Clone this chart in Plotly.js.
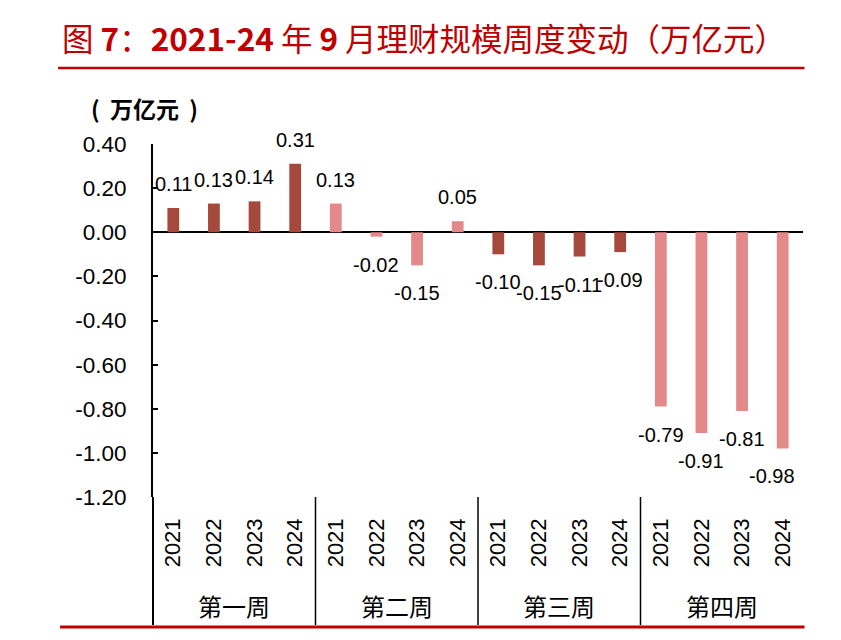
<!DOCTYPE html>
<html>
<head>
<meta charset="utf-8">
<script src="https://cdn.plot.ly/plotly-3.0.1.min.js"></script>
<style>
  html, body { margin: 0; padding: 0; background: #fff; }
  #chart { width: 841px; height: 640px; }
</style>
</head>
<body>
<div id="chart"></div>
<script>
// ---- data ----
var weeks = ['第一周', '第二周', '第三周', '第四周'];
var years = ['2021', '2022', '2023', '2024'];
var week1 = [0.11, 0.13, 0.14, 0.31];
var week2 = [0.13, -0.02, -0.15, 0.05];
var week3 = [-0.10, -0.15, -0.11, -0.09];
var week4 = [-0.79, -0.91, -0.81, -0.98];
var yTicks = [0.40, 0.20, 0.00, -0.20, -0.40, -0.60, -0.80, -1.00, -1.20];

// ---- styles ----
var darkColor = '#A4493C';
var lightColor = '#E4898A';
var weekColors = [darkColor, lightColor, darkColor, lightColor];
var series = [week1, week2, week3, week4];
var latin = 'Liberation Sans, Arial, sans-serif';
var cjk = 'Noto Sans CJK SC, sans-serif';

var traces = [];
var annotations = [];
var allX = [], allText = [];
var nBars = series.length * years.length;
series.forEach(function (vals, w) {
  var xs = vals.map(function (v, j) { return w * years.length + j; });
  traces.push({
    type: 'bar',
    x: xs,
    y: vals,
    width: 0.29,
    marker: { color: weekColors[w], line: { width: 0 } },
    hoverinfo: 'skip',
    showlegend: false
  });
  vals.forEach(function (v, j) {
    allX.push(xs[j]);
    allText.push(years[j]);
    annotations.push({
      x: xs[j], y: v, xref: 'x', yref: 'y',
      text: v.toFixed(2),
      showarrow: false,
      xanchor: 'center', yanchor: 'middle',
      yshift: v >= 0 ? 24 : -28,
      // keep the last label inside the chart edge
      xshift: xs[j] === nBars - 1 ? -11 : 0,
      font: { family: latin, size: 20, color: '#000' }
    });
  });
});

// plot geometry helpers (paper units)
var plotLeft = 153, plotRight = 803.5, plotTop = 144, plotBottom = 497;
var pw = plotRight - plotLeft, ph = plotBottom - plotTop;
function px(x) { return (x - plotLeft) / pw; }
function py(y) { return (plotBottom - y) / ph; }

// week group labels
weeks.forEach(function (wk, w) {
  annotations.push({
    x: w * years.length + (years.length - 1) / 2, y: py(605),
    xref: 'x', yref: 'paper', text: wk, showarrow: false,
    xanchor: 'center', yanchor: 'middle',
    font: { family: cjk, size: 24, color: '#000' }
  });
});

// unit label
annotations.push({
  x: px(89), y: py(108), xref: 'paper', yref: 'paper',
  text: '<b>(</b>&nbsp; <b>万亿元</b>&nbsp; <b>)</b>', showarrow: false,
  xanchor: 'left', yanchor: 'middle',
  font: { family: cjk, size: 23, color: '#000' }
});

var shapes = [];
// y-axis extension down through label area
shapes.push({ type: 'line', xref: 'paper', yref: 'paper', x0: 0, x1: 0, y0: 0, y1: py(625),
  line: { color: '#000', width: 2 } });
// group dividers
for (var w = 1; w < weeks.length; w++) {
  var xb = w * years.length - 0.5;
  shapes.push({ type: 'line', xref: 'x', yref: 'paper', x0: xb, x1: xb, y0: 0, y1: py(625),
    line: { color: '#000', width: 1.5 } });
}
// red rule under title
shapes.push({ type: 'line', xref: 'paper', yref: 'paper', x0: px(58), x1: px(805), y0: py(68), y1: py(68),
  line: { color: '#C00000', width: 2.5 } });
// red rule at bottom
shapes.push({ type: 'line', xref: 'paper', yref: 'paper', x0: px(60), x1: px(805), y0: py(627), y1: py(627),
  line: { color: '#C00000', width: 3 } });

var layout = {
  width: 841, height: 640,
  margin: { l: plotLeft, r: 841 - plotRight, t: plotTop, b: 640 - plotBottom, pad: 0 },
  paper_bgcolor: '#fff', plot_bgcolor: '#fff',
  barmode: 'overlay',
  title: {
    text: '图 <b>7</b>：<b>2021-24</b> 年 <b>9</b> 月理财规模周度变动（万亿元）',
    x: 62 / 841, xref: 'container', xanchor: 'left',
    y: 1 - 40 / 640, yref: 'container', yanchor: 'middle',
    font: { family: cjk, size: 31.5, color: '#C00000' }
  },
  xaxis: {
    type: 'linear',
    range: [-0.5, allX.length - 0.5],
    tickmode: 'array', tickvals: allX, ticktext: allText,
    tickangle: -90,
    ticks: '', showline: false, showgrid: false, zeroline: false,
    ticklabelstandoff: 16,
    tickfont: { family: latin, size: 22, color: '#000' },
    fixedrange: true
  },
  yaxis: {
    range: [-1.2, 0.4],
    tickmode: 'array', tickvals: yTicks,
    ticktext: yTicks.map(function (v) { return v.toFixed(2); }),
    ticks: 'inside', ticklen: 5, tickwidth: 2, tickcolor: '#000',
    showline: true, linecolor: '#000', linewidth: 2,
    showgrid: false,
    zeroline: true, zerolinecolor: '#000', zerolinewidth: 2,
    ticklabelstandoff: 20,
    tickfont: { family: latin, size: 22.5, color: '#000' },
    fixedrange: true
  },
  annotations: annotations,
  shapes: shapes
};

Plotly.newPlot('chart', traces, layout, { displayModeBar: false, staticPlot: true });
</script>
</body>
</html>
